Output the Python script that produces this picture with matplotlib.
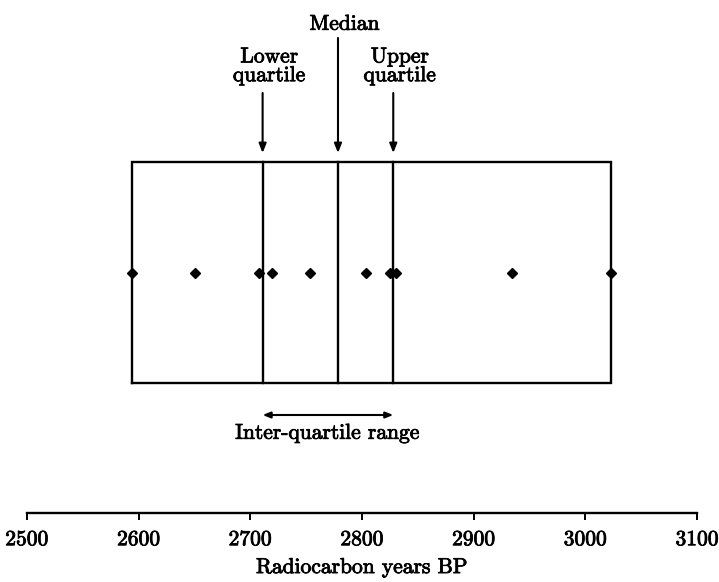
import matplotlib
matplotlib.use("Agg")
import matplotlib.pyplot as plt
import matplotlib.patheffects as pe
import numpy as np

# radiocarbon dates (years BP)
dates = [2594, 2650, 2708, 2719, 2753, 2804, 2825, 2830, 2934, 3023]
lower_quartile = 2711
upper_quartile = 2828
median = np.median(dates)
ticks = [2500, 2600, 2700, 2800, 2900, 3000, 3100]

plt.rcParams['font.family'] = 'cmr10'
plt.rcParams['axes.formatter.use_mathtext'] = True

fig = plt.figure(figsize=(7.19, 5.82), dpi=100)
# y units are pixels above the axis line
ax = fig.add_axes([27/719, 69/582, 670/719, 513/582])
ax.set_xlim(2500, 3100)
ax.set_ylim(0, 513)

lw = 1.7
box_lo, box_hi = 130, 351
ax.plot([min(dates), max(dates), max(dates), min(dates), min(dates)],
        [box_lo, box_lo, box_hi, box_hi, box_lo], color='black', lw=lw,
        solid_joinstyle='miter')
for q in [lower_quartile, median, upper_quartile]:
    ax.plot([q, q], [box_lo, box_hi], color='black', lw=lw)

ax.plot(dates, [240]*len(dates), 'D', color='black', ms=5.5)

arrow = dict(arrowstyle='-|>,head_length=0.55,head_width=0.22', color='black', lw=1.5,
             shrinkA=0, shrinkB=0)
ax.annotate('', xy=(median, 360), xytext=(median, 475), arrowprops=arrow)
ax.annotate('', xy=(lower_quartile, 360), xytext=(lower_quartile, 420), arrowprops=arrow)
ax.annotate('', xy=(upper_quartile, 360), xytext=(upper_quartile, 420), arrowprops=arrow)

fs = 15.5
thick = [pe.withStroke(linewidth=0.6, foreground='black')]  # scanned print looks heavier
off = 6  # labels sit slightly right of the arrows
ax.text(median + off, 489, 'Median', ha='center', va='center', fontsize=fs,
        path_effects=thick)
ax.text(lower_quartile + off, 447, 'Lower\nquartile', ha='center', va='center', fontsize=fs,
        linespacing=0.95, path_effects=thick)
ax.text(upper_quartile + off, 447, 'Upper\nquartile', ha='center', va='center', fontsize=fs,
        linespacing=0.95, path_effects=thick)

dbl = dict(arrowstyle='<|-|>,head_length=0.45,head_width=0.18', color='black', lw=1.5,
           shrinkA=0, shrinkB=0)
ax.annotate('', xy=(lower_quartile, 98), xytext=(upper_quartile, 98), arrowprops=dbl)
ax.text((lower_quartile + upper_quartile)/2, 80, 'Inter-quartile range',
        ha='center', va='center', fontsize=fs, path_effects=thick)

for s in ['top', 'left', 'right']:
    ax.spines[s].set_visible(False)
ax.spines['bottom'].set_linewidth(lw)
ax.set_yticks([])
ax.set_xticks(ticks)
ax.set_xticklabels([str(t) for t in ticks])
ax.tick_params(axis='x', direction='out', length=5, width=1.4, labelsize=fs, pad=7)
for lab in ax.get_xticklabels():
    lab.set_path_effects(thick)
ax.set_xlabel('Radiocarbon years BP', fontsize=fs, labelpad=6, path_effects=thick)

fig.savefig('out.png', dpi=100)
